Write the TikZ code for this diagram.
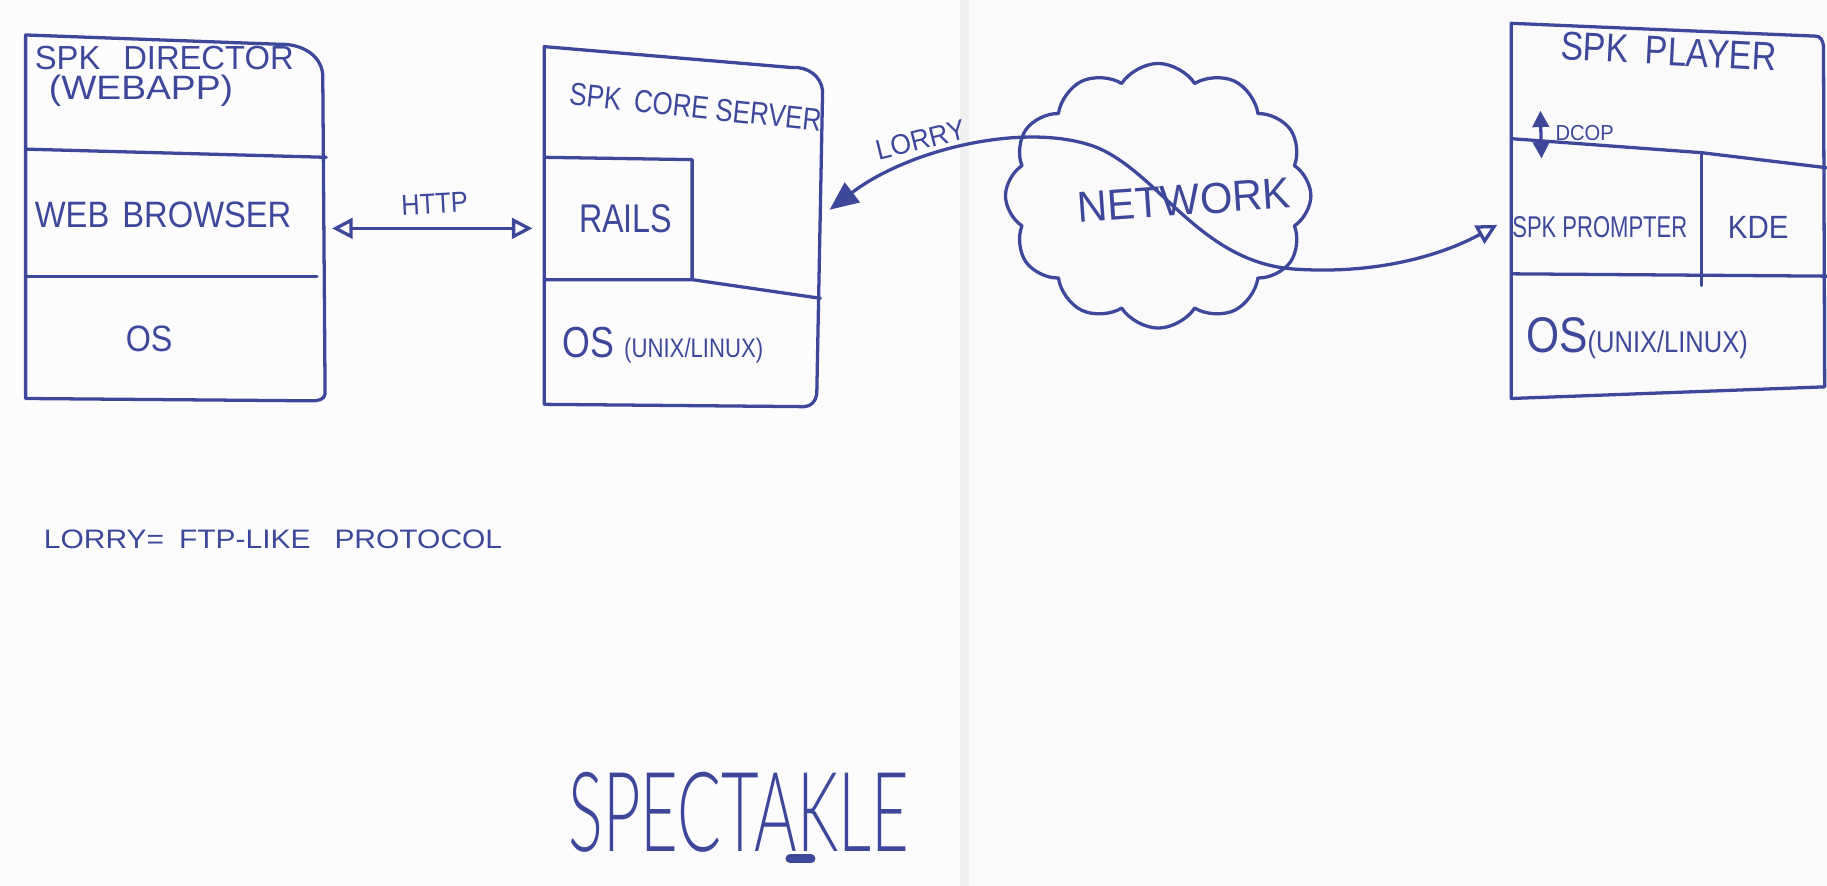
\documentclass[tikz,border=0pt]{standalone}
\usepackage{fontspec}
\setmainfont{Liberation Sans}
\newcommand{\trythin}[2]{\IfFontExistsTF{#1}{\newfontfamily\thinfont{#1}}{#2}}
\trythin{Lato Light}{\trythin{Noto Sans Light}{\trythin{Fira Sans Light}{\trythin{Noto Sans ExtraLight}{\trythin{DejaVu Sans ExtraLight}{\trythin{Lato Thin}{\trythin{Noto Sans Thin}{\newfontfamily\thinfont{Liberation Sans}}}}}}}}
\usetikzlibrary{arrows.meta,shapes.symbols}
\definecolor{ink}{RGB}{62,72,155}
\definecolor{paper}{RGB}{252,252,253}
\newcommand{\hw}[3]{\resizebox{#1cm}{#2cm}{#3}}
\tikzset{
  pen/.style={draw=ink, line width=0.8pt, line cap=round, line join=round},
  lbl/.style={inner sep=0pt, text=ink},
}
\begin{document}
\begin{tikzpicture}[x=0.01cm,y=-0.01cm]
\useasboundingbox (0,0) rectangle (1568,760);
\fill[paper] (0,0) rectangle (1568,760);
% page fold
\fill[gray!4] (824,0) rectangle (1568,760);
\fill[gray!12] (824,0) rectangle (832,760);

% ---------- SPK Director box ----------
\draw[pen] (22,30) -- (240,38) to[out=2,in=95] (277,64) -- (279,338) to[out=-95,in=0] (268,344) -- (22,342) -- cycle;
\draw[pen] (22,128) -- (280,135);
\draw[pen] (22,237) -- (272,237);
\coordinate (dirR) at (285,196);

% ---------- SPK Core server box ----------
\draw[pen] (467,40) -- (680,58) to[out=5,in=95] (706,78) -- (701,338) to[out=-95,in=0] (690,349) -- (467,347) -- cycle;
\draw[pen] (467,135) -- (594,137) -- (594,240);
\draw[pen] (467,240) -- (594,240) -- (704,256);
\coordinate (coreL) at (457,196);
\coordinate (coreR) at (712,180);

% ---------- SPK Player box ----------
\draw[pen] (1297,20) -- (1558,31) to[out=5,in=92] (1565,40) -- (1566,332) -- (1297,342) -- cycle;
\draw[pen] (1297,119) -- (1460,131) -- (1568,144);
\draw[pen] (1460,131) -- (1460,245);
\draw[pen] (1297,235) -- (1568,237);
\coordinate (playL) at (1285,193);
\coordinate (dcopT) at (1322,95);
\coordinate (dcopB) at (1323,136);

% ---------- Network cloud ----------
\node[pen, shape=cloud, cloud puffs=12, cloud puff arc=115, aspect=1.15,
      minimum width=2.62cm, minimum height=2.27cm, inner sep=0pt] (net) at (994,168) {};

% ---------- connectors ----------
\draw[pen, {Triangle[open,length=5pt,width=5pt]}-{Triangle[open,length=5pt,width=5pt]}] (dirR) -- (coreL);
\draw[pen, {Triangle[length=7pt,width=6pt]}-{Triangle[open,length=5pt,width=5pt]}]
  (coreR) .. controls (780,128) and (880,104) .. (940,126)
          .. controls (995,148) and (1030,226) .. (1112,231)
          .. controls (1190,236) and (1245,215) .. (playL);
\draw[pen, {Triangle[length=4pt,width=4pt]}-{Triangle[length=4pt,width=4pt]}] (dcopT) -- (dcopB);

% ---------- labels ----------
\node[lbl] (t1) at (141,50) {\hw{2.22}{0.20}{SPK\hspace{0.7em}DIRECTOR}};
\node[lbl] (t2) at (121,78) {\hw{1.58}{0.21}{(WEBAPP)}};
\node[lbl] (t3) at (140,184) {\hw{2.20}{0.22}{WEB\hspace{0.4em}BROWSER}};
\node[lbl] (t4) at (128,291) {\hw{0.40}{0.22}{OS}};
\node[lbl, rotate=3] (t5) at (373,175) {\hw{0.57}{0.17}{HTTP}};
\node[lbl, rotate=-6] (t6) at (597,92) {\hw{2.17}{0.19}{SPK\hspace{0.5em}CORE SERVER}};
\node[lbl] (t7) at (537,188) {\hw{0.80}{0.24}{RAILS}};
\node[lbl] (t8) at (569,296) {\hw{1.72}{0.26}{OS \scalebox{0.62}{(UNIX/LINUX)}}};
\node[lbl, rotate=14] (t9) at (790,120) {\hw{0.78}{0.17}{LORRY}};
\node[lbl, rotate=4] (t10) at (1016,172) {\hw{1.83}{0.26}{NETWORK}};
\node[lbl, rotate=-3] (t11) at (1432,44) {\hw{1.85}{0.24}{SPK\hspace{0.5em}PLAYER}};
\node[lbl] (t12) at (1360,114) {\hw{0.50}{0.13}{DCOP}};
\node[lbl] (t13) at (1373,195) {\hw{1.50}{0.18}{SPK PROMPTER}};
\node[lbl] (t14) at (1509,195) {\hw{0.52}{0.19}{KDE}};
\node[lbl] (t15) at (1405,290) {\hw{1.90}{0.30}{OS\scalebox{0.6}{(UNIX/LINUX)}}};
\node[lbl, anchor=west] (t16) at (37,463) {\hw{3.93}{0.16}{LORRY=\hspace{0.5em}FTP-LIKE\hspace{0.8em}PROTOCOL}};
\node[lbl] (t17) at (634,697) {\hw{2.92}{0.68}{\thinfont SPECTAKLE}};
\draw[ink, line width=2.2pt, line cap=round] (678,737) -- (696,737);
\end{tikzpicture}
\end{document}
